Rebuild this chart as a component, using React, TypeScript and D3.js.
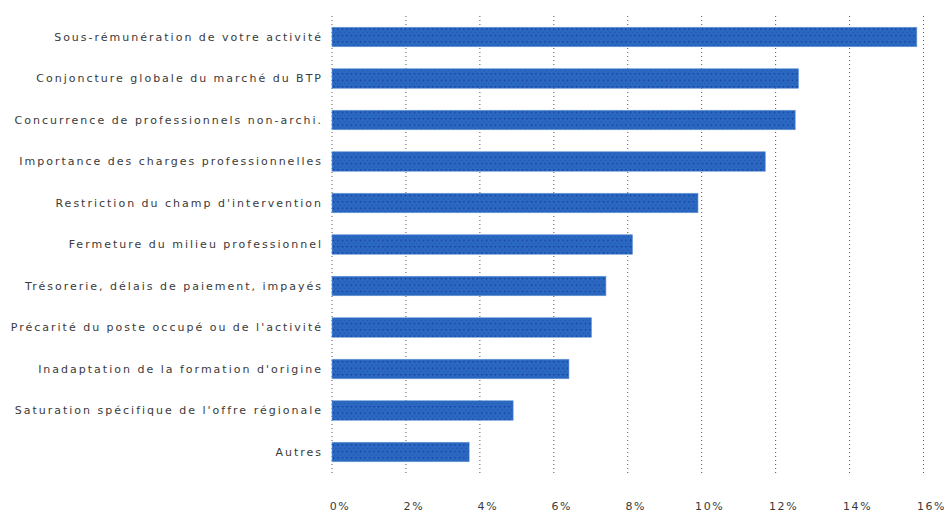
import React from "react";
import * as d3 from "d3";

const categories: string[] = [
  "Sous-rémunération de votre activité",
  "Conjoncture globale du marché du BTP",
  "Concurrence de professionnels non-archi.",
  "Importance des charges professionnelles",
  "Restriction du champ d'intervention",
  "Fermeture du milieu professionnel",
  "Trésorerie, délais de paiement, impayés",
  "Précarité du poste occupé ou de l'activité",
  "Inadaptation de la formation d'origine",
  "Saturation spécifique de l'offre régionale",
  "Autres",
];

const values: number[] = [15.82, 12.62, 12.53, 11.72, 9.9, 8.13, 7.41, 7.02, 6.41, 4.9, 3.71];

const ticks: number[] = [0, 2, 4, 6, 8, 10, 12, 14, 16];

const W = 944;
const H = 513;

export default function App() {
  const x = d3.scaleLinear().domain([0, 16]).range([332, 923.5]);
  const y = d3
    .scaleBand<string>()
    .domain(categories)
    .range([16.25, 472.75])
    .paddingInner(0.53)
    .paddingOuter(0.265);
  const bw = y.bandwidth();
  const font = "'DejaVu Sans', Verdana, sans-serif";

  return (
    <svg
      width={W}
      height={H}
      style={{ position: "absolute", left: 0, top: 0, display: "block", background: "#fff" }}
    >
      <defs>
        <pattern id="dots" width="4.5" height="6.4" patternUnits="userSpaceOnUse" x="332" y="27.5">
          <rect width="4.5" height="6.4" fill="#2a68c2" />
          <circle cx="1.5" cy="1.6" r="0.75" fill="#0f2f88" />
          <circle cx="3.75" cy="4.8" r="0.55" fill="#1d489f" />
        </pattern>
      </defs>
      {ticks.map((t) => (
        <line
          key={"g" + t}
          x1={x(t)}
          x2={x(t)}
          y1={16}
          y2={473}
          stroke="#555"
          strokeWidth={1}
          strokeDasharray="1,3"
        />
      ))}
      {categories.map((c, i) => (
        <rect
          key={"b" + c}
          x={x(0)}
          y={y(c)!}
          width={x(values[i]) - x(0)}
          height={bw}
          fill="url(#dots)"
          stroke="#6b9ad8"
          strokeWidth={0.6}
        />
      ))}
      {categories.map((c) => (
        <text
          key={"l" + c}
          x={323}
          y={y(c)! + bw / 2}
          dy="0.35em"
          textAnchor="end"
          fontFamily={font}
          fontSize={11}
          letterSpacing={2}
          fill="#3a3a3a"
        >
          {c}
        </text>
      ))}
      {ticks.map((t) => (
        <text
          key={"t" + t}
          x={x(t) + 8}
          y={506}
          dy="0.35em"
          textAnchor="middle"
          fontFamily={font}
          fontSize={11}
          letterSpacing={1.6}
          fill="#3a3a3a"
        >
          {t + "%"}
        </text>
      ))}
    </svg>
  );
}
